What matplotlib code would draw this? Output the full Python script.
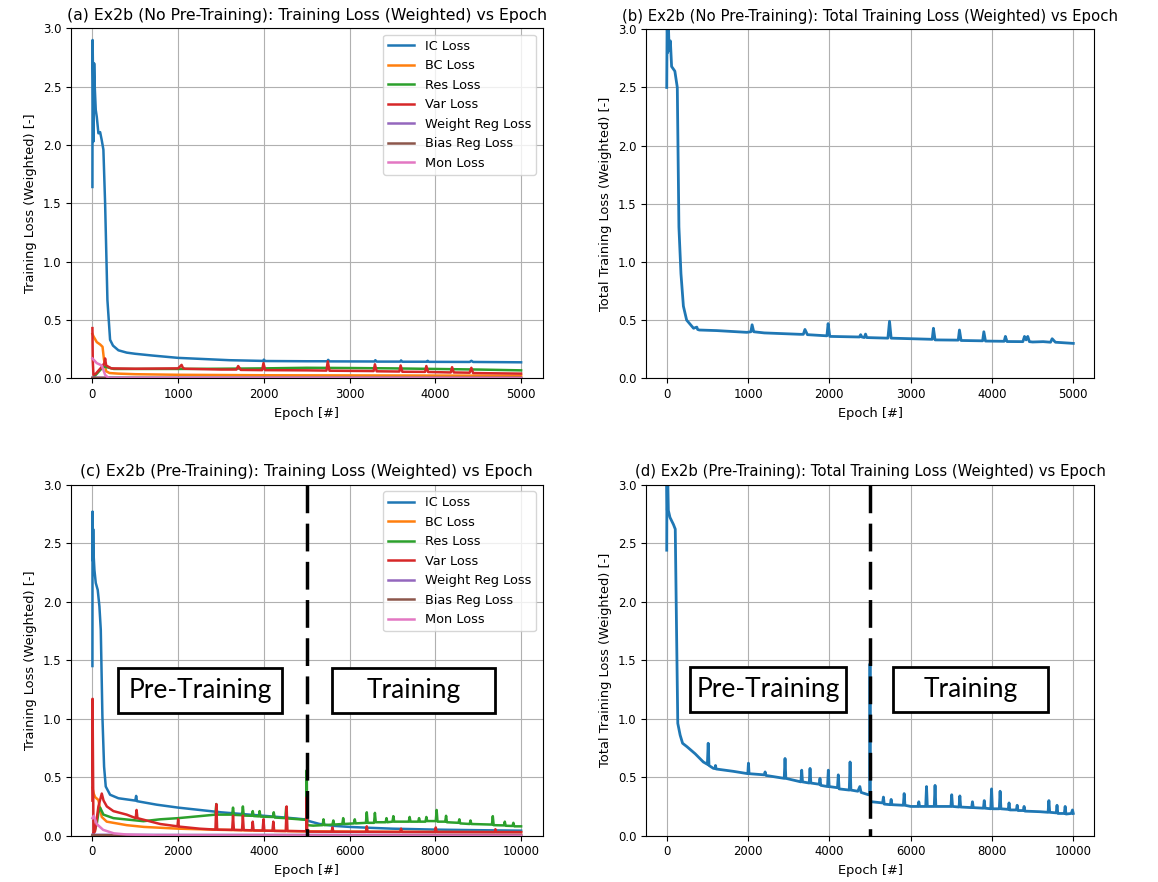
import numpy as np
import matplotlib.pyplot as plt
from matplotlib.patches import Rectangle

# ------------------------------
# Loss histories (epoch, value) read per component
# ------------------------------
labels = ['IC Loss', 'BC Loss', 'Res Loss', 'Var Loss',
          'Weight Reg Loss', 'Bias Reg Loss', 'Mon Loss']

# Ex2b without pre-training, 5000 epochs
ic_a = [(0, 1.64), (2, 2.90), (8, 2.55), (12, 2.03), (20, 2.70), (27, 2.50),
        (39, 2.30), (51, 2.24), (70, 2.10), (90, 2.11), (109, 2.04), (128, 1.96),
        (148, 1.50), (175, 0.67), (206, 0.33), (240, 0.28), (303, 0.24), (400, 0.22),
        (500, 0.21), (700, 0.195), (1000, 0.175), (1300, 0.165), (1600, 0.155),
        (1990, 0.149), (2000, 0.16), (2015, 0.148), (2500, 0.146), (2740, 0.146),
        (2750, 0.158), (2765, 0.145), (3290, 0.144), (3300, 0.155), (3315, 0.143),
        (3590, 0.143), (3600, 0.153), (3615, 0.142), (3900, 0.142), (3910, 0.15),
        (3925, 0.141), (4400, 0.14), (4420, 0.15), (4440, 0.14), (5000, 0.137)]
bc_a = [(0, 0.38), (12, 0.36), (51, 0.31), (90, 0.29), (118, 0.27), (135, 0.16),
        (160, 0.06), (200, 0.045), (300, 0.04), (500, 0.035), (1000, 0.03),
        (2000, 0.026), (3500, 0.024), (5000, 0.022)]
res_a = [(0, 0.0), (40, 0.03), (90, 0.07), (130, 0.10), (170, 0.095), (250, 0.08),
         (500, 0.08), (1000, 0.08), (1500, 0.082), (2000, 0.085), (2500, 0.09),
         (3000, 0.088), (3500, 0.085), (4000, 0.08), (4500, 0.075), (5000, 0.068)]
var_a = [(0, 0.43), (4, 0.15), (12, 0.03), (40, 0.04), (100, 0.09), (140, 0.13),
         (148, 0.17), (160, 0.11), (220, 0.085), (500, 0.082), (1000, 0.085),
         (1040, 0.115), (1055, 0.09), (1075, 0.082), (1500, 0.075), (1680, 0.075),
         (1700, 0.105), (1730, 0.072), (1980, 0.07), (1995, 0.13), (2015, 0.07),
         (2500, 0.068), (2730, 0.066), (2745, 0.145), (2765, 0.065), (3280, 0.062),
         (3295, 0.12), (3315, 0.06), (3580, 0.058), (3595, 0.11), (3615, 0.056),
         (3880, 0.055), (3895, 0.105), (3915, 0.054), (4180, 0.05), (4195, 0.095),
         (4215, 0.05), (4400, 0.048), (4420, 0.09), (4440, 0.045), (5000, 0.04)]
wreg_a = [(0, 0.006), (1000, 0.005), (5000, 0.004)]
breg_a = [(0, 0.003), (1000, 0.002), (5000, 0.002)]
mon_a = [(0, 0.17), (51, 0.13), (109, 0.11), (148, 0.03), (190, 0.0), (5000, 0.0)]

total_a = [(0, 2.5), (5, 3.1), (12, 2.8), (20, 3.05), (30, 2.82), (45, 2.9),
           (60, 2.68), (100, 2.64), (130, 2.5), (150, 1.30), (175, 0.90), (205, 0.62),
           (245, 0.50), (330, 0.43), (370, 0.44), (380, 0.42), (400, 0.415), (615, 0.41),
           (985, 0.395), (1035, 0.40), (1050, 0.46), (1070, 0.40), (1200, 0.39),
           (1640, 0.378), (1680, 0.378), (1700, 0.42), (1730, 0.375), (1970, 0.365),
           (1985, 0.47), (2005, 0.36), (2370, 0.355), (2385, 0.375), (2400, 0.355),
           (2430, 0.35), (2445, 0.38), (2460, 0.35), (2720, 0.345), (2740, 0.49),
           (2760, 0.345), (3265, 0.335), (3280, 0.43), (3300, 0.33), (3585, 0.328),
           (3600, 0.415), (3620, 0.325), (3885, 0.322), (3900, 0.40), (3920, 0.32),
           (4150, 0.318), (4165, 0.36), (4185, 0.316), (4380, 0.315), (4400, 0.36),
           (4420, 0.33), (4440, 0.36), (4460, 0.315), (4500, 0.312), (4630, 0.315),
           (4720, 0.31), (4740, 0.34), (4780, 0.31), (5000, 0.30)]

# Ex2b with pre-training (first 5000 epochs) then training, 10000 epochs
ic_c = [(0, 1.45), (3, 2.77), (10, 2.35), (18, 2.62), (28, 2.40), (47, 2.27),
        (78, 2.16), (124, 2.10), (163, 1.96), (195, 1.76), (233, 1.02), (272, 0.59),
        (311, 0.42), (412, 0.35), (606, 0.32), (1000, 0.30), (1020, 0.34), (1040, 0.295),
        (1500, 0.265), (2000, 0.24), (2500, 0.22), (3000, 0.20), (3500, 0.185),
        (4000, 0.17), (4500, 0.155), (4950, 0.14), (5000, 0.15), (5050, 0.125),
        (5300, 0.10), (5600, 0.085), (6000, 0.075), (6500, 0.067), (7000, 0.06),
        (8000, 0.052), (9000, 0.047), (10000, 0.043)]
bc_c = [(0, 0.41), (30, 0.36), (62, 0.33), (140, 0.305), (218, 0.16), (334, 0.12),
        (800, 0.09), (1200, 0.075), (2000, 0.06), (3000, 0.05), (4000, 0.043),
        (5000, 0.037), (7000, 0.033), (10000, 0.03)]
res_c = [(0, 0.0), (24, 0.01), (101, 0.10), (140, 0.195), (179, 0.24), (257, 0.18),
         (490, 0.15), (1190, 0.124), (1580, 0.14), (2000, 0.15), (2500, 0.167),
         (2870, 0.18), (2890, 0.27), (2910, 0.18), (3260, 0.18), (3280, 0.24),
         (3300, 0.178), (3490, 0.175), (3510, 0.25), (3530, 0.172), (3720, 0.17),
         (3740, 0.21), (3760, 0.168), (3880, 0.165), (3900, 0.21), (3920, 0.163),
         (4210, 0.16), (4230, 0.2), (4250, 0.155), (4500, 0.15), (4520, 0.24),
         (4540, 0.148), (4830, 0.14), (4990, 0.135), (5000, 0.56), (5010, 0.09),
         (5150, 0.086), (5370, 0.09), (5390, 0.14), (5410, 0.09), (5600, 0.095),
         (5620, 0.13), (5640, 0.095), (5830, 0.1), (5850, 0.15), (5870, 0.1),
         (6100, 0.105), (6120, 0.14), (6140, 0.105), (6380, 0.11), (6400, 0.2),
         (6420, 0.11), (6570, 0.11), (6590, 0.195), (6610, 0.115), (6840, 0.115),
         (6860, 0.15), (6880, 0.115), (7000, 0.12), (7020, 0.167), (7040, 0.12),
         (7380, 0.12), (7400, 0.16), (7420, 0.12), (7600, 0.12), (7620, 0.15),
         (7640, 0.12), (7770, 0.12), (7790, 0.16), (7810, 0.125), (8010, 0.125),
         (8030, 0.22), (8050, 0.12), (8230, 0.12), (8250, 0.17), (8270, 0.115),
         (8540, 0.11), (8560, 0.14), (8580, 0.105), (8800, 0.1), (8820, 0.13),
         (8840, 0.1), (9320, 0.095), (9340, 0.167), (9360, 0.09), (9600, 0.088),
         (9620, 0.12), (9640, 0.085), (9800, 0.083), (9820, 0.11), (9840, 0.08),
         (10000, 0.08)]
var_c = [(0, 0.30), (3, 1.17), (25, 0.02), (62, 0.04), (140, 0.25), (218, 0.36),
         (260, 0.30), (336, 0.25), (490, 0.21), (800, 0.18), (1010, 0.15), (1030, 0.22),
         (1050, 0.15), (1580, 0.10), (1985, 0.08), (2000, 0.14), (2015, 0.078),
         (2500, 0.06), (2870, 0.052), (2890, 0.27), (2910, 0.052), (3260, 0.05),
         (3280, 0.17), (3300, 0.05), (3490, 0.048), (3510, 0.17), (3530, 0.048),
         (3720, 0.046), (3740, 0.12), (3760, 0.045), (3970, 0.044), (3990, 0.14),
         (4010, 0.043), (4200, 0.042), (4220, 0.12), (4240, 0.041), (4510, 0.04),
         (4530, 0.25), (4550, 0.04), (4990, 0.038), (5000, 0.33), (5010, 0.035),
         (5580, 0.034), (5600, 0.07), (5620, 0.034), (6380, 0.033), (6400, 0.08),
         (6420, 0.033), (7180, 0.032), (7200, 0.06), (7220, 0.032), (7990, 0.031),
         (8010, 0.07), (8030, 0.031), (9390, 0.03), (9400, 0.055), (9420, 0.03),
         (10000, 0.03)]
wreg_c = [(0, 0.008), (2000, 0.007), (10000, 0.006)]
breg_c = [(0, 0.004), (2000, 0.003), (10000, 0.003)]
mon_c = [(0, 0.15), (30, 0.17), (100, 0.10), (250, 0.05), (500, 0.02), (800, 0.01),
         (1500, 0.003), (10000, 0.0)]

total_c = [(0, 2.44), (5, 3.1), (15, 2.78), (25, 3.05), (40, 2.78), (80, 2.72),
           (165, 2.66), (210, 2.62), (240, 1.80), (272, 0.96), (330, 0.86), (390, 0.79),
           (500, 0.76), (700, 0.70), (900, 0.63), (1000, 0.61), (1020, 0.79), (1040, 0.60),
           (1150, 0.575), (1190, 0.575), (1200, 0.60), (1215, 0.57), (1640, 0.55),
           (1995, 0.53), (2010, 0.62), (2025, 0.53), (2400, 0.52), (2420, 0.545),
           (2440, 0.515), (2890, 0.49), (2910, 0.66), (2930, 0.49), (3300, 0.46),
           (3320, 0.56), (3340, 0.46), (3505, 0.45), (3525, 0.575), (3545, 0.45),
           (3750, 0.44), (3770, 0.49), (3790, 0.43), (3955, 0.42), (3975, 0.56),
           (3995, 0.42), (4200, 0.41), (4220, 0.52), (4240, 0.40), (4490, 0.39),
           (4510, 0.63), (4530, 0.39), (4700, 0.38), (4750, 0.42), (4780, 0.37),
           (4960, 0.35), (4990, 0.35), (5000, 1.47), (5010, 0.30), (5040, 0.29),
           (5310, 0.28), (5330, 0.33), (5350, 0.27), (5500, 0.265), (5520, 0.31),
           (5540, 0.265), (5820, 0.26), (5840, 0.36), (5860, 0.26), (6000, 0.25),
           (6180, 0.25), (6200, 0.29), (6220, 0.25), (6370, 0.25), (6390, 0.42),
           (6410, 0.25), (6580, 0.25), (6600, 0.43), (6620, 0.25), (6990, 0.25),
           (7010, 0.35), (7030, 0.25), (7190, 0.245), (7210, 0.34), (7230, 0.245),
           (7500, 0.24), (7520, 0.29), (7540, 0.24), (7790, 0.235), (7810, 0.30),
           (7830, 0.235), (7970, 0.23), (7990, 0.40), (8010, 0.23), (8180, 0.23),
           (8200, 0.38), (8220, 0.23), (8400, 0.225), (8420, 0.28), (8440, 0.22),
           (8600, 0.22), (8620, 0.26), (8640, 0.215), (8770, 0.215), (8790, 0.25),
           (8810, 0.21), (9180, 0.205), (9380, 0.20), (9400, 0.30), (9420, 0.20),
           (9580, 0.195), (9600, 0.26), (9620, 0.19), (9780, 0.19), (9800, 0.25),
           (9820, 0.185), (9950, 0.19), (9980, 0.22), (10000, 0.19)]

switch_epoch = 5000
epoch_ticks_long = [0, 2000, 4000, 6000, 8000, 10000]

# ------------------------------
# Figure
# ------------------------------
plt.rcParams['font.size'] = 8.4
plt.rcParams['lines.linewidth'] = 1.8
fig = plt.figure(figsize=(11.58, 8.82), dpi=100)
ax_a = fig.add_axes([0.0613, 0.5711, 0.4072, 0.3968])
ax_b = fig.add_axes([0.5582, 0.5711, 0.3862, 0.3957])
ax_c = fig.add_axes([0.0613, 0.0525, 0.4072, 0.3980])
ax_d = fig.add_axes([0.5582, 0.0525, 0.3862, 0.3980])


def draw_components(ax, series, title):
    for s, lab in zip(series, labels):
        ep, val = np.array(s).T
        ax.plot(ep, val, label=lab)
    ax.set_ylim(0, 3)
    ax.set_title(title, fontsize=11.3)
    ax.set_xlabel('Epoch [#]', fontsize=9.4)
    ax.set_ylabel('Training Loss (Weighted) [-]', fontsize=9.4)
    ax.grid(True)
    ax.legend(loc='upper right', fontsize=9.3)


def draw_total(ax, series, title):
    ep, val = np.array(series).T
    ax.plot(ep, val, lw=2)
    ax.set_ylim(0, 3)
    ax.set_title(title, fontsize=10.7)
    ax.set_xlabel('Epoch [#]', fontsize=9.4)
    ax.set_ylabel('Total Training Loss (Weighted) [-]', fontsize=9.4)
    ax.grid(True)


def phase_boxes(ax, pre_box, train_box):
    # dashed switch line, dash phase chosen so the pattern starts at the top
    ax.axvline(switch_epoch, color='k', lw=2.5, ls=(5.9, (8, 3)))
    for (x0, y0, x1, y1), txt in [(pre_box, 'Pre-Training'), (train_box, 'Training')]:
        ax.add_patch(Rectangle((x0, y0), x1 - x0, y1 - y0, transform=ax.transAxes,
                               fc='white', ec='black', lw=2, zorder=5))
        ax.text((x0 + x1) / 2, (y0 + y1) / 2, txt, transform=ax.transAxes,
                ha='center', va='center', fontsize=19, family='Lato', zorder=6)


draw_components(ax_a, [ic_a, bc_a, res_a, var_a, wreg_a, breg_a, mon_a],
                '(a) Ex2b (No Pre-Training): Training Loss (Weighted) vs Epoch')
draw_total(ax_b, total_a,
           '(b) Ex2b (No Pre-Training): Total Training Loss (Weighted) vs Epoch')
draw_components(ax_c, [ic_c, bc_c, res_c, var_c, wreg_c, breg_c, mon_c],
                '(c) Ex2b (Pre-Training): Training Loss (Weighted) vs Epoch')
draw_total(ax_d, total_c,
           '(d) Ex2b (Pre-Training): Total Training Loss (Weighted) vs Epoch')

ax_c.set_xticks(epoch_ticks_long)
ax_d.set_xticks(epoch_ticks_long)

phase_boxes(ax_c, (0.0997, 0.350, 0.4476, 0.478), (0.5537, 0.350, 0.8994, 0.478))
phase_boxes(ax_d, (0.0975, 0.353, 0.4463, 0.481), (0.5514, 0.353, 0.8980, 0.481))

fig.savefig('out.png', dpi=100)
